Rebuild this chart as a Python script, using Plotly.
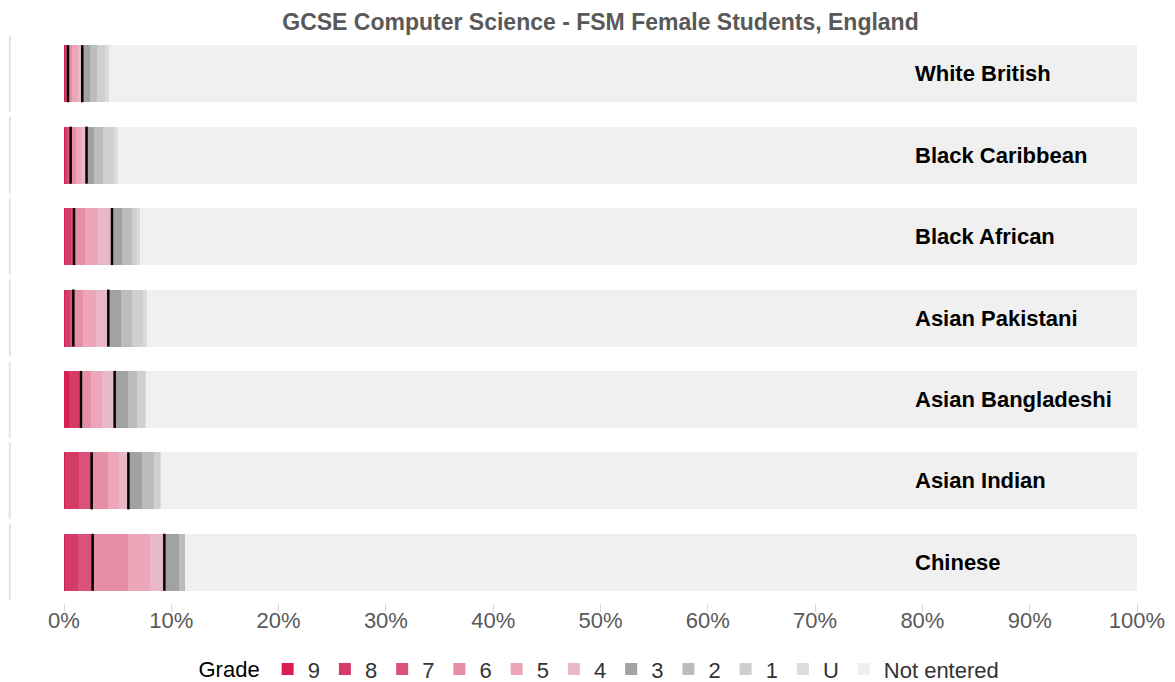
import plotly.graph_objects as go

categories = ["White British", "Black Caribbean", "Black African", "Asian Pakistani",
              "Asian Bangladeshi", "Asian Indian", "Chinese"]
grades = ["9", "8", "7", "6", "5", "4", "3", "2", "1", "U"]

# percentage of students achieving each grade, per category (top to bottom)
g9 = [0.10, 0.10, 0.05, 0.05, 0.50, 0.10, 0.10]
g8 = [0.12, 0.22, 0.60, 0.55, 0.90, 1.33, 1.23]
g7 = [0.15, 0.30, 0.28, 0.27, 0.18, 1.15, 1.34]
g6 = [0.40, 0.50, 1.03, 0.93, 0.92, 1.55, 3.33]
g5 = [0.50, 0.50, 1.18, 1.18, 1.00, 1.00, 2.00]
g4 = [0.43, 0.48, 1.33, 1.15, 1.22, 0.87, 1.35]
g3 = [0.72, 0.70, 0.90, 1.18, 1.28, 1.30, 1.35]
g2 = [0.68, 0.86, 1.00, 1.06, 0.77, 1.12, 0.60]
g1 = [0.70, 1.04, 0.40, 1.02, 0.78, 0.53, 0.00]
gU = [0.40, 0.30, 0.31, 0.31, 0.05, 0.05, 0.00]

series = [g9, g8, g7, g6, g5, g4, g3, g2, g1, gU]
colors = ["#d81f55", "#d23c66", "#d9527a", "#e58ea5", "#eda5b8", "#e9b8c8",
          "#a2a2a2", "#bcbcbc", "#cfcfcf", "#dcdcdc"]
not_entered_color = "#f0f0f0"

totals = [sum(s[i] for s in series) for i in range(len(categories))]
not_entered = [100 - t for t in totals]

fig = go.Figure()
for name, vals, col in zip(grades, series, colors):
    fig.add_trace(go.Bar(y=categories, x=vals, name=name, orientation="h",
                         marker=dict(color=col, line=dict(width=0)),
                         hoverinfo="x+name"))
fig.add_trace(go.Bar(y=categories, x=not_entered, name="Not entered", orientation="h",
                     marker=dict(color=not_entered_color, line=dict(width=0)),
                     hoverinfo="x+name"))

# cumulative lines at grade 7+ and grade 4+
for i in range(len(categories)):
    c7 = g9[i] + g8[i] + g7[i]
    c4 = c7 + g6[i] + g5[i] + g4[i]
    for xv in (c7, c4):
        fig.add_shape(type="line", xref="x", yref="y", x0=xv, x1=xv,
                      y0=i - 0.35, y1=i + 0.35,
                      line=dict(color="black", width=2.5))
    # left panel separator
    fig.add_shape(type="line", xref="paper", yref="y", x0=-0.0505, x1=-0.0505,
                  y0=i - 0.47, y1=i + 0.47, line=dict(color="#e4e4e4", width=2))
    fig.add_annotation(x=79.1, y=categories[i], xref="x", yref="y",
                       text="<b>" + categories[i] + "</b>", showarrow=False,
                       xanchor="left", font=dict(size=22, color="black",
                                                 family="Liberation Sans"))

fig.update_layout(
    barmode="stack",
    bargap=0.3,
    width=1167, height=674,
    margin=dict(l=56, r=38, t=25, b=79, autoexpand=False),
    plot_bgcolor="white", paper_bgcolor="white",
    font=dict(family="Liberation Sans", size=22, color="#595959"),
    title=dict(text="<b>GCSE Computer Science - FSM Female Students, England</b>",
               x=0.5, xref="paper", xanchor="center", y=0.979, yanchor="middle",
               font=dict(size=23, color="#595959")),
    xaxis=dict(range=[0, 100], dtick=10, ticksuffix="%", showgrid=False,
               zeroline=False, showline=False, ticks="outside", ticklen=8,
               ticklabelstandoff=-10,
               tickcolor="#d9d9d9", tickwidth=1, tickfont=dict(size=22, color="#595959")),
    yaxis=dict(categoryorder="array", categoryarray=categories, autorange="reversed",
               showticklabels=False, showgrid=False, zeroline=False, showline=False),
    legend=dict(orientation="h", x=0.5, xanchor="center", yref="container",
                y=0.019, yanchor="middle", traceorder="normal",
                title=dict(text="Grade", font=dict(size=22, color="black")),
                font=dict(size=22, color="#333333"), itemwidth=30),
    showlegend=True,
)

fig.write_html("out.html")
